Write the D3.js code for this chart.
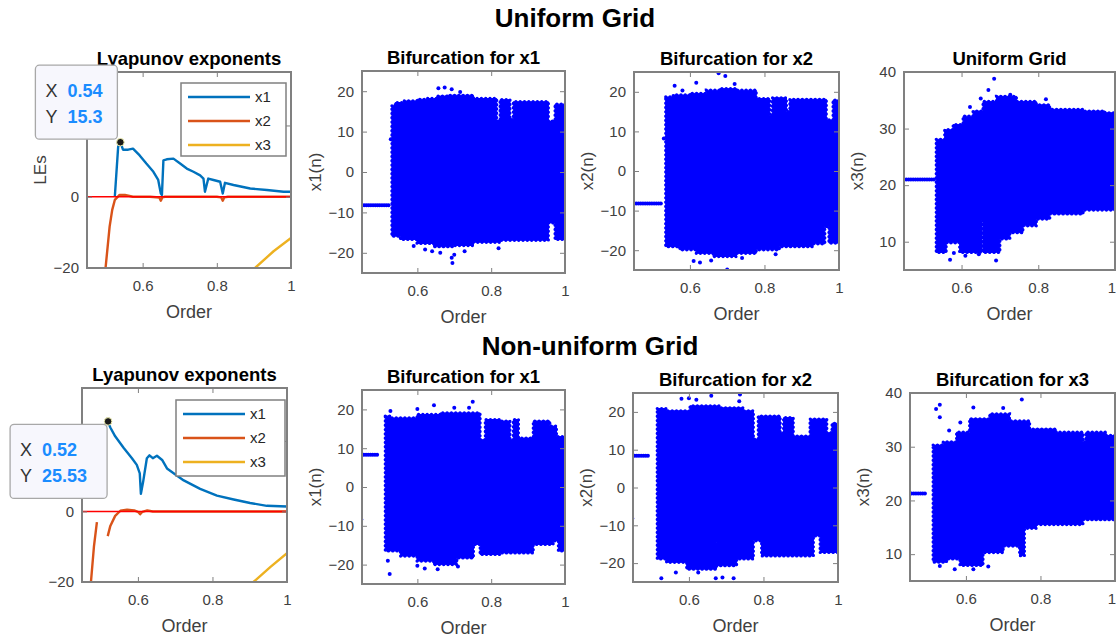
<!DOCTYPE html>
<html><head><meta charset="utf-8">
<script src="https://cdn.jsdelivr.net/npm/d3@7"></script>
<style>body{margin:0;background:#fff}svg{display:block}svg text{font-family:"Liberation Sans",Arial,Helvetica,sans-serif}</style>
</head><body>
<svg id="fig" width="1117" height="639"></svg>
<script>
// ---------- shared ticks ----------
const xTicks = [0.6, 0.8, 1];
const leTicks = [-20, 0, 20];
const bif12Ticks = [-20, -10, 0, 10, 20];
const bif3Ticks = [10, 20, 30, 40];
const orderDomain = [0.45, 1];
const leDomain = [-20, 35];
const bif12Domain = [-25, 25];
const bif3Domain = [5, 40];
const legendNames = ["x1", "x2", "x3"];

// ---------- Lyapunov exponents, uniform grid ----------
const leU_x1_order = [0.525,0.534,0.540,0.547,0.561,0.574,0.592,0.610,0.629,0.642,0.649,0.652,0.656,0.665,0.683,0.701,0.719,0.737,0.755,0.764,0.768,0.777,0.791,0.809,0.816,0.822,0.845,0.890,0.935,0.980,1.0];
const leU_x1_value = [0,14.0,15.3,13.2,13.2,13.5,11.6,9.3,7.0,4.7,0.9,0.5,10.2,10.5,10.7,9.3,7.9,7.0,6.0,5.1,1.4,5.1,4.7,4.2,0.9,3.9,3.3,2.3,1.9,1.4,1.4];
const leU_x2_order = [0.500,0.511,0.518,0.525,0.538,0.552,0.574,0.620,0.645,0.649,0.653,0.660,0.800,0.812,0.816,0.820,0.830,1.0];
const leU_x2_value = [-20,-8.4,-3.7,-0.9,0.5,0.5,0,0,-0.2,-1.1,-0.2,0,0,-0.2,-1.1,-0.2,0,0];
const leU_x3_order = [0.903,0.953,1.0];
const leU_x3_value = [-20,-15.3,-11.6];
const leU_tip = [0.54, 15.3];

// ---------- Lyapunov exponents, non-uniform grid ----------
const leN_x1_order = [0.519,0.526,0.539,0.562,0.584,0.597,0.605,0.608,0.614,0.624,0.631,0.640,0.651,0.665,0.678,0.723,0.767,0.812,0.857,0.901,0.946,1.0];
const leN_x1_value = [25.53,23.8,21.3,18.0,15.1,13.2,10.8,5.0,8.4,15.1,15.9,15.1,15.8,14.6,12.2,8.8,6.4,4.5,3.4,2.4,1.6,1.4];
const leN_x2_order = [0.474,0.482,0.490,0.495,0.519,0.526,0.539,0.553,0.571,0.590,0.600,0.606,0.612,0.625,0.640,1.0];
const leN_x2_value = [-20,-10,-3.0,null,-7.0,-4.1,-1.25,0.2,0.5,0.3,-0.1,-0.8,-0.1,0.3,0,0];
const leN_x3_order = [0.910,0.955,1.0];
const leN_x3_value = [-20,-15.8,-11.8];
const leN_tip = [0.52, 25.53];

// ---------- Bifurcation, uniform grid, x1 ----------
const u1Order = [0.531,0.540,0.554,0.563,0.599,0.626,0.644,0.653,0.680,0.698,0.752,0.815,0.824,0.851,0.860,0.955,0.973,1.0];
const u1Upper = [16.4,17.2,17.2,17.6,18.0,18.2,18.2,18.8,19.0,19.0,18.2,12.6,17.9,13.0,17.4,12.6,16.8,16.8];
const u1Lower = [-15.9,-15.9,-16.7,-16.7,-17.7,-17.7,-18.5,-18.5,-18.5,-18.2,-17.4,-17.4,-16.9,-16.9,-16.9,-12.6,-16.7,-16.7];
const u1Dots = [[0.450,-8.2],[0.456,-8.2],[0.462,-8.2],[0.468,-8.2],[0.474,-8.2],[0.480,-8.2],[0.486,-8.2],[0.492,-8.2],[0.498,-8.2],[0.504,-8.2],[0.510,-8.2],[0.516,-8.2],[0.522,-8.2],[0.528,8.1],
  [0.657,20.7],[0.674,20.9],[0.693,20.5],[0.716,19.8],[0.590,-18.3],[0.621,-19.2],[0.640,-19.6],[0.662,-20.0],[0.693,-21.2],[0.695,-22.5],[0.700,-20.5],[0.728,-19.6],[0.820,-18.9]];

// ---------- Bifurcation, uniform grid, x2 ----------
const u2Order = [0.535,0.555,0.573,0.600,0.617,0.644,0.662,0.680,0.725,0.778,0.814,0.821,0.840,0.859,0.868,0.930,0.962,0.966,0.973,0.984,1.0];
const u2Upper = [18.7,19.2,19.2,19.6,19.6,20.4,20.4,20.8,20.4,18.3,14.1,18.5,18.5,15.0,18.1,18.1,18.1,12.9,12.9,17.9,17.9];
const u2Lower = [-19.1,-19.1,-19.9,-19.9,-20.8,-20.8,-21.6,-21.6,-20.8,-19.9,-19.9,-19.9,-19.1,-19.1,-19.1,-18.4,-14.0,-14.0,-18.2,-18.2,-18.2];
const u2Dots = [[0.450,-8.2],[0.456,-8.2],[0.462,-8.2],[0.468,-8.2],[0.474,-8.2],[0.480,-8.2],[0.486,-8.2],[0.492,-8.2],[0.498,-8.2],[0.504,-8.2],[0.510,-8.2],[0.516,-8.2],[0.522,-8.2],[0.530,8.2],
  [0.559,21.5],[0.580,20.3],[0.617,22.3],[0.677,24.7],[0.695,24.0],[0.720,22.0],[0.610,-22.7],[0.627,-23.1],[0.657,-22.6],[0.700,-24.9],[0.740,-22.0],[0.830,-21.0]];

// ---------- Bifurcation, uniform grid, x3 ----------
const u3Order = [0.534,0.556,0.560,0.578,0.595,0.604,0.630,0.652,0.656,0.691,0.700,0.726,0.743,0.760,0.795,0.830,0.917,0.974,1.0];
const u3Upper = [28.1,29.8,29.8,30.7,30.7,32.2,33.1,33.1,34.8,35.7,35.7,35.7,34.8,34.8,34.2,33.4,33.1,32.8,32.8];
const u3Lower = [8.1,8.1,9.8,9.8,8.1,8.1,8.1,13.7,8.1,8.1,10.5,11.6,11.6,12.8,14.0,14.9,15.6,15.6,15.6];
const u3Dots = [[0.450,21.0],[0.456,21.0],[0.462,21.0],[0.468,21.0],[0.474,21.0],[0.480,21.0],[0.486,21.0],[0.492,21.0],[0.498,21.0],[0.504,21.0],[0.510,21.0],[0.516,21.0],[0.522,21.0],[0.528,21.0],
  [0.685,38.8],[0.670,36.8],[0.727,36.0],[0.650,35.3],[0.622,33.8],[0.820,35.2],[0.570,6.8],[0.610,7.5],[0.690,6.7],[0.645,7.8],[0.580,8.0],[0.630,8.6]];

// ---------- Bifurcation, non-uniform grid, x1 ----------
const n1Order = [0.513,0.527,0.554,0.599,0.644,0.662,0.707,0.752,0.770,0.784,0.824,0.851,0.860,0.874,0.914,0.959,0.968,0.977,0.982,1.0];
const n1Upper = [18.3,17.8,17.8,18.7,18.7,19.1,19.1,19.1,12.2,17.4,17.0,12.2,17.4,12.6,17.0,15.7,15.7,13.0,13.0,13.0];
const n1Lower = [-16.5,-16.5,-17.8,-19.1,-20.0,-20.0,-18.3,-14.8,-17.4,-17.4,-17.0,-17.0,-17.0,-17.0,-14.8,-14.8,-13.9,-13.9,-16.5,-16.5];
const n1Dots = [[0.448,-8.4],[0.455,8.3],[0.461,8.3],[0.467,8.3],[0.473,8.3],[0.479,8.3],[0.485,8.3],[0.491,8.3],
  [0.527,19.6],[0.600,20.1],[0.645,21.1],[0.700,20.4],[0.750,22.0],[0.740,20.4],[0.520,-19.0],[0.525,-22.4],[0.600,-20.3],[0.620,-21.0],[0.655,-21.2],[0.710,-20.5]];

// ---------- Bifurcation, non-uniform grid, x2 ----------
const n2Order = [0.515,0.540,0.594,0.603,0.674,0.678,0.683,0.728,0.746,0.773,0.786,0.795,0.845,0.854,0.880,0.925,0.934,0.952,0.970,0.984,1.0];
const n2Upper = [20.9,20.3,20.3,21.6,21.6,21.6,21.1,21.1,20.3,12.8,18.9,18.9,14.5,18.5,13.6,18.1,18.1,18.1,14.5,17.0,17.0];
const n2Lower = [-18.9,-19.8,-21.6,-21.6,-14.5,-20.7,-20.7,-18.9,-18.9,-14.1,-14.1,-18.1,-18.1,-18.1,-18.1,-18.1,-12.8,-17.2,-17.2,-17.2,-17.2];
const n2Dots = [[0.448,-8.2],[0.454,8.4],[0.460,8.4],[0.466,8.4],[0.472,8.4],[0.478,8.4],[0.484,8.4],[0.490,8.4],
  [0.580,23.5],[0.600,23.6],[0.620,23.2],[0.660,24.3],[0.737,24.6],[0.735,22.8],[0.526,-24.0],[0.565,-22.5],[0.625,-22.5],[0.672,-24.0],[0.690,-23.8],[0.720,-24.0]];

// ---------- Bifurcation, non-uniform grid, x3 ----------
const n3Order = [0.512,0.539,0.548,0.575,0.584,0.610,0.646,0.664,0.700,0.717,0.744,0.757,0.771,0.789,0.842,0.914,0.922,0.976,1.0];
const n3Upper = [30.3,30.9,30.9,32.7,32.7,35.2,35.2,36.1,36.1,34.8,34.8,34.8,33.3,33.3,32.7,30.9,32.7,32.1,32.1];
const n3Lower = [8.5,8.5,9.1,9.1,7.9,7.9,10.3,10.3,11.5,11.5,9.7,14.8,14.8,15.5,15.5,16.4,16.4,16.4,16.4];
const n3Dots = [[0.454,21.3],[0.460,21.3],[0.466,21.3],[0.472,21.3],[0.478,21.3],[0.484,21.3],[0.490,21.3],
  [0.520,37.0],[0.530,37.8],[0.530,35.5],[0.555,33.0],[0.585,34.5],[0.620,37.3],[0.700,37.2],[0.750,38.8],[0.530,7.8],[0.570,7.2],[0.620,7.2],[0.660,7.7]];

// ---------- drawing ----------
const svg = d3.select("#fig");
const W = 1117;
const BOX = "#808080", TXT = "#404040", BLUE = "#0000ff";
const LINE_COLORS = ["#0072BD", "#D95319", "#EDB120"];
let clipN = 0;

function makeAxes(L, xDom, yDom, yTicks, title, ylabel) {
  const xs = d3.scaleLinear().domain(xDom).range([L.x, L.x + L.w]);
  const ys = d3.scaleLinear().domain(yDom).range([L.y + L.h, L.y]);
  const id = "clip" + (clipN++);
  svg.append("clipPath").attr("id", id).append("rect")
    .attr("x", L.x).attr("y", L.y).attr("width", L.w).attr("height", L.h);
  const plot = svg.append("g").attr("clip-path", `url(#${id})`);
  const fr = svg.append("g");
  const fmt = d => d === 1 ? "1" : d3.format(".1f")(d);
  const bx = fr.append("g").attr("transform", `translate(0,${L.y + L.h})`)
    .call(d3.axisBottom(xs).tickValues(xTicks).tickSizeInner(-5).tickSizeOuter(0).tickPadding(12).tickFormat(fmt));
  const tx = fr.append("g").attr("transform", `translate(0,${L.y})`)
    .call(d3.axisTop(xs).tickValues(xTicks).tickSizeInner(-5).tickSizeOuter(0).tickFormat(""));
  const ly = fr.append("g").attr("transform", `translate(${L.x},0)`)
    .call(d3.axisLeft(ys).tickValues(yTicks).tickSizeInner(-5).tickSizeOuter(0).tickPadding(8));
  const ry = fr.append("g").attr("transform", `translate(${L.x + L.w},0)`)
    .call(d3.axisRight(ys).tickValues(yTicks).tickSizeInner(-5).tickSizeOuter(0).tickFormat(""));
  [bx, tx, ly, ry].forEach(a => {
    a.select(".domain").remove();
    a.selectAll("line").attr("stroke", BOX).attr("stroke-width", 1);
    a.selectAll("text").attr("fill", TXT).style("font-size", "15px");
  });
  bx.selectAll(".tick text").each(function () {
    const b = this.getBoundingClientRect();
    if (b.right > W - 1) d3.select(this).attr("dx", (W - 1 - b.right) + "px");
  });
  fr.append("rect").attr("x", L.x).attr("y", L.y).attr("width", L.w).attr("height", L.h)
    .attr("fill", "none").attr("stroke", BOX).attr("stroke-width", 2);
  fr.append("text").attr("x", L.x + L.w / 2).attr("y", L.y + L.h + 50)
    .attr("text-anchor", "middle").attr("fill", TXT).style("font-size", "18px").text("Order");
  fr.append("text").attr("transform", `translate(${L.x - 41},${L.y + L.h / 2}) rotate(-90)`)
    .attr("text-anchor", "middle").attr("fill", TXT).style("font-size", "17px").text(ylabel);
  fr.append("text").attr("x", L.x + L.w / 2).attr("y", L.y - 7)
    .attr("text-anchor", "middle").attr("fill", "#000").style("font-size", "18.5px")
    .style("font-weight", "bold").text(title);
  return { xs, ys, plot, fr };
}

function drawBif(L, yDom, yTicks, title, ylabel, order, upper, lower, dots) {
  const A = makeAxes(L, orderDomain, yDom, yTicks, title, ylabel);
  const rows = order.map((o, i) => ({ o, u: upper[i], l: lower[i] }));
  const area = d3.area().curve(d3.curveStepAfter).x(d => A.xs(d.o)).y0(d => A.ys(d.l)).y1(d => A.ys(d.u));
  A.plot.append("path").datum(rows).attr("d", area)
    .attr("fill", BLUE).attr("stroke", BLUE).attr("stroke-width", 1);
  // dotted rim imitating the scattered markers at the cloud's edge
  A.plot.append("path").datum(rows).attr("d", area)
    .attr("fill", "none").attr("stroke", BLUE).attr("stroke-width", 3.2)
    .attr("stroke-linecap", "round").attr("stroke-dasharray", "0.1 4.2");
  A.plot.selectAll("circle.pt").data(dots).join("circle")
    .attr("cx", d => A.xs(d[0])).attr("cy", d => A.ys(d[1])).attr("r", 2).attr("fill", BLUE);
  return A;
}

function drawLE(L, series, tip, legendBox, tipBox) {
  const A = makeAxes(L, orderDomain, leDomain, leTicks, "Lyapunov exponents", "LEs");
  series.forEach((s, k) => {
    const rows = s.order.map((o, i) => ({ o, v: s.value[i] }));
    A.plot.append("path").datum(rows)
      .attr("d", d3.line().defined(d => d.v !== null).x(d => A.xs(d.o)).y(d => A.ys(d.v)))
      .attr("fill", "none").attr("stroke", LINE_COLORS[k]).attr("stroke-width", 2.4)
      .attr("stroke-linejoin", "round");
  });
  A.plot.append("path").datum(orderDomain)
    .attr("d", d3.line().x(d => A.xs(d)).y(() => A.ys(0)))
    .attr("stroke", "#ff0000").attr("stroke-width", 1.6);
  const lg = A.fr.append("g");
  lg.append("rect").attr("x", legendBox.x).attr("y", legendBox.y).attr("width", legendBox.w).attr("height", legendBox.h)
    .attr("fill", "#fff").attr("stroke", BOX).attr("stroke-width", 1.5);
  legendNames.forEach((n, k) => {
    const yy = legendBox.y + 14 + k * 24;
    lg.append("line").attr("x1", legendBox.x + 7).attr("x2", legendBox.x + 69).attr("y1", yy).attr("y2", yy)
      .attr("stroke", LINE_COLORS[k]).attr("stroke-width", 2.6);
    lg.append("text").attr("x", legendBox.x + 74).attr("y", yy + 5).attr("fill", "#262626")
      .style("font-size", "15px").text(n);
  });
  const mx = A.xs(tip[0]), my = A.ys(tip[1]);
  svg.append("circle").attr("cx", mx).attr("cy", my).attr("r", 3.8)
    .attr("fill", "#1a1a1a").attr("stroke", "#f0f0b0").attr("stroke-width", 1);
  const bxL = mx + tipBox.dx, byT = my + tipBox.dy;
  A.fr.selectAll("text").each(function () {
    const b = this.getBoundingClientRect();
    const cx = (b.left + b.right) / 2, cy = (b.top + b.bottom) / 2;
    if (cx > bxL && cx < bxL + tipBox.w && cy > byT && cy < byT + 74) d3.select(this).remove();
  });
  const tg = svg.append("g");
  tg.append("rect").attr("x", bxL).attr("y", byT).attr("width", tipBox.w).attr("height", 74).attr("rx", 4)
    .attr("fill", "#f7f7fd").attr("stroke", "#a8a8a8").attr("stroke-width", 1.3);
  [["X", tip[0]], ["Y", tip[1]]].forEach((r, k) => {
    const yy = byT + 32 + k * 26;
    tg.append("text").attr("x", bxL + 10).attr("y", yy).attr("fill", "#333").style("font-size", "18px").text(r[0]);
    tg.append("text").attr("x", bxL + 32).attr("y", yy).attr("fill", "#1a8cff").style("font-size", "18px")
      .style("font-weight", "bold").text(r[1]);
  });
  return A;
}

svg.append("text").attr("x", 575).attr("y", 27).attr("text-anchor", "middle").style("font-size", "26px")
  .style("font-weight", "bold").attr("fill", "#000").text("Uniform Grid");
svg.append("text").attr("x", 590).attr("y", 355).attr("text-anchor", "middle").style("font-size", "26px")
  .style("font-weight", "bold").attr("fill", "#000").text("Non-uniform Grid");

drawLE({ x: 87, y: 72, w: 204, h: 196 }, [
  { order: leU_x1_order, value: leU_x1_value },
  { order: leU_x2_order, value: leU_x2_value },
  { order: leU_x3_order, value: leU_x3_value }], leU_tip,
  { x: 181, y: 83, w: 105, h: 73 }, { dx: -85, dy: -77, w: 82 });
drawBif({ x: 362, y: 71, w: 203, h: 202 }, bif12Domain, bif12Ticks, "Bifurcation for x1", "x1(n)", u1Order, u1Upper, u1Lower, u1Dots);
drawBif({ x: 634, y: 72, w: 205, h: 198 }, bif12Domain, bif12Ticks, "Bifurcation for x2", "x2(n)", u2Order, u2Upper, u2Lower, u2Dots);
drawBif({ x: 904, y: 72, w: 211, h: 198 }, bif3Domain, bif3Ticks, "Uniform Grid", "x3(n)", u3Order, u3Upper, u3Lower, u3Dots);

drawLE({ x: 82, y: 388, w: 205, h: 194 }, [
  { order: leN_x1_order, value: leN_x1_value },
  { order: leN_x2_order, value: leN_x2_value },
  { order: leN_x3_order, value: leN_x3_value }], leN_tip,
  { x: 176, y: 400, w: 109, h: 76 }, { dx: -98, dy: 3, w: 97 });
drawBif({ x: 362, y: 390, w: 203, h: 194 }, bif12Domain, bif12Ticks, "Bifurcation for x1", "x1(n)", n1Order, n1Upper, n1Lower, n1Dots);
drawBif({ x: 633, y: 393, w: 205, h: 189 }, bif12Domain, bif12Ticks, "Bifurcation for x2", "x2(n)", n2Order, n2Upper, n2Lower, n2Dots);
drawBif({ x: 910, y: 393, w: 205, h: 188 }, bif3Domain, bif3Ticks, "Bifurcation for x3", "x3(n)", n3Order, n3Upper, n3Lower, n3Dots);
</script>
</body></html>
